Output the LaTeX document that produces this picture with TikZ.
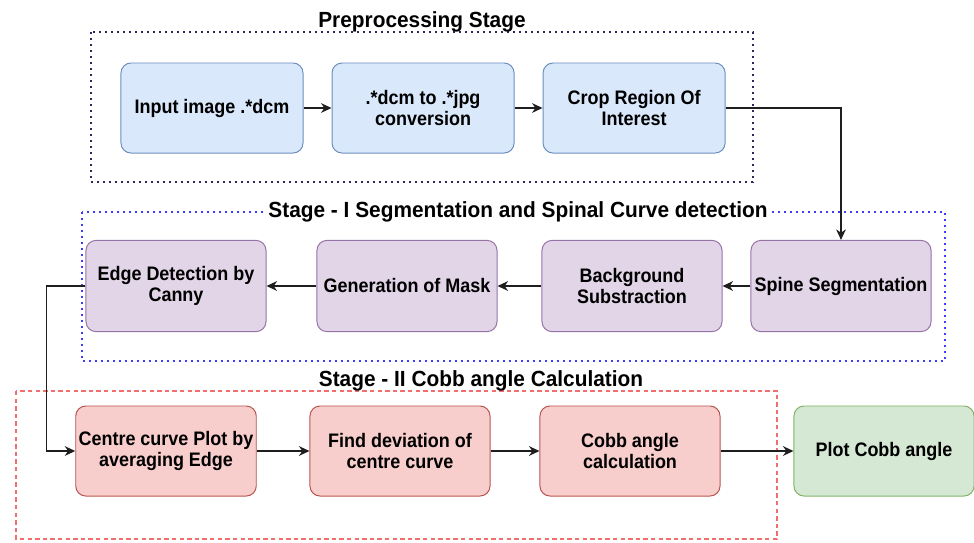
\documentclass[tikz,border=0pt]{standalone}
\usepackage{fontspec}
\setmainfont{Liberation Sans}
\newfontfamily\boxfont{Liberation Sans}[FakeStretch=0.92]
\newfontfamily\stagefont{Liberation Sans}[FakeStretch=0.95]
\usepackage{tikz}
\usetikzlibrary{
  arrows.meta,
  positioning
}
\definecolor{prep_fill}{HTML}{DAE8FC}
\definecolor{prep_line}{HTML}{6C8EBF}
\definecolor{seg_fill}{HTML}{E1D5E7}
\definecolor{seg_line}{HTML}{9673A6}
\definecolor{cobb_fill}{HTML}{F8CECC}
\definecolor{cobb_line}{HTML}{B85450}
\definecolor{out_fill}{HTML}{D5E8D4}
\definecolor{out_line}{HTML}{82B366}
\definecolor{frame_navy}{RGB}{40, 40, 90}
\definecolor{frame_blue}{RGB}{60, 60, 250}
\definecolor{frame_red}{RGB}{240, 110, 110}
\definecolor{flow_gray}{RGB}{30, 30, 30}

\begin{document}
\begin{tikzpicture}[
    % Styles
    x=0.025cm, y=-0.025cm,
    >={Stealth[length=0.26cm, width=0.24cm, inset=0.08cm]},
    line width=1pt,
    % Blocks
    block/.style={
        rectangle,
        rounded corners=0.25cm,
        line width=0.7pt,
        minimum width=4.5cm,
        minimum height=2.25cm,
        inner sep=2pt,
        align=center,
        font=\boxfont\bfseries\fontsize{13.9}{14.4}\selectfont
    },
    prep_block/.style={block, draw=prep_line, fill=prep_fill, minimum width=4.55cm},
    seg_block/.style={block, draw=seg_line, fill=seg_fill, minimum height=2.28cm},
    cobb_block/.style={block, draw=cobb_line, fill=cobb_fill},
    out_block/.style={block, draw=out_line, fill=out_fill},
    % Stage frames
    dotted_frame/.style={line width=1.1pt, dash pattern=on 0.05cm off 0.1cm},
    dashed_frame/.style={line width=1.1pt, dash pattern=on 0.11cm off 0.08cm},
    stage_title/.style={
        font=\stagefont\bfseries\fontsize{15.6}{18}\selectfont,
        inner sep=1pt
    },
    flow/.style={->, line width=1.1pt, draw=flow_gray}
]
\useasboundingbox (0,0) rectangle (974,542);

% --- LAYOUT ---

% 1. Preprocessing (Top row)
\node[prep_block] (input) at (212,108) {Input image .*dcm};
\node[prep_block, right=0.7cm of input] (dcm2jpg) {.*dcm to .*jpg\\conversion};
\node[prep_block, right=0.7cm of dcm2jpg] (crop) {Crop Region Of\\Interest};

% 2. Stage I (Middle row, right to left)
\node[seg_block] (spine) at (841,286) {Spine Segmentation};
\node[seg_block] (bg) at (632,286) {Background\\Substraction};
\node[seg_block] (mask) at (407,286) {Generation of Mask};
\node[seg_block] (edge) at (176,286) {Edge Detection by\\Canny};

% 3. Stage II (Bottom row)
\node[cobb_block] (centre) at (166,451) {Centre curve Plot by\\averaging Edge};
\node[cobb_block] (find) at (400,451) {Find deviation of\\centre curve};
\node[cobb_block] (cobb) at (630,451) {Cobb angle\\calculation};
\node[out_block] (plot) at (884,451) {Plot Cobb angle};

% --- FRAMES ---
\draw[dotted_frame, frame_navy] (91,32) rectangle (753,182);
\draw[dotted_frame, frame_blue] (82,212) rectangle (945,361);
\draw[dashed_frame, frame_red] (16,391) rectangle (777,539);

\node[stage_title, anchor=base] (prep_title) at (422,27) {Preprocessing Stage};
\node[stage_title, fill=white] (seg_title) at (518,212) {Stage - I Segmentation and Spinal Curve detection};
\node[stage_title, anchor=base] (cobb_title) at (481,386) {Stage - II Cobb angle Calculation};

% --- ARROWS ---
\draw[flow] (input) -- (dcm2jpg);
\draw[flow] (dcm2jpg) -- (crop);
\draw[flow] (crop.east) -| (spine.north);

\draw[flow] (spine) -- (bg);
\draw[flow] (bg) -- (mask);
\draw[flow] (mask) -- (edge);

% Loop down to Stage II on the left
\draw[flow] (edge.west) -- ++(-39,0) |- (centre.west);

\draw[flow] (centre) -- (find);
\draw[flow] (find) -- (cobb);
\draw[flow] (cobb) -- (plot);

\end{tikzpicture}
\end{document}
